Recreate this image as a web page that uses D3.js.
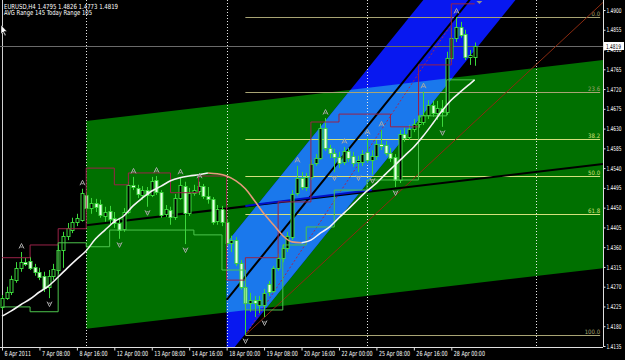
<!DOCTYPE html>
<html>
<head>
<meta charset="utf-8">
<script src="https://cdn.jsdelivr.net/npm/d3@7"></script>
<style>
  html, body { margin: 0; padding: 0; background: #000; }
  svg { display: block; }
  text { font-family: "DejaVu Sans Condensed", "DejaVu Sans", sans-serif; }
</style>
</head>
<body>
<svg id="chart"></svg>
<script>
// ---------- data (EURUSD H4, 6 Apr - 28 Apr 2011) ----------
const opens = [1.4224,1.4244,1.4258,1.4285,1.4313,1.4326,1.4329,1.4315,1.4304,1.4295,
  1.4270,1.4295,1.4308,1.4354,1.4386,1.4399,1.4418,1.4422,1.4479,1.4449,
  1.4461,1.4459,1.4431,1.4443,1.4427,1.4415,1.4402,1.4440,1.4502,1.4495,
  1.4479,1.4490,1.4479,1.4513,1.4486,1.4436,1.4445,1.4429,1.4472,1.4499,
  1.4438,1.4484,1.4488,1.4499,1.4477,1.4470,1.4420,1.4447,1.4418,1.4370,
  1.4376,1.4324,1.4270,1.4233,1.4240,1.4229,1.4229,1.4276,1.4260,1.4313,
  1.4336,1.4358,1.4383,1.4484,1.4518,1.4497,1.4520,1.4552,1.4563,1.4632,
  1.4586,1.4575,1.4566,1.4554,1.4579,1.4568,1.4554,1.4554,1.4577,1.4559,
  1.4568,1.4595,1.4593,1.4575,1.4566,1.4513,1.4618,1.4611,1.4629,1.4641,
  1.4645,1.4661,1.4684,1.4666,1.4677,1.4668,1.4791,1.4837,1.4862,1.4846,
  1.4793,1.4795];
const highs = [1.4251,1.4270,1.4295,1.4326,1.4349,1.4336,1.4338,1.4322,1.4313,1.4304,
  1.4308,1.4322,1.4365,1.4395,1.4415,1.4427,1.4436,1.4493,1.4486,1.4472,
  1.4470,1.4468,1.4452,1.4454,1.4440,1.4427,1.4449,1.4509,1.4520,1.4502,
  1.4499,1.4497,1.4520,1.4522,1.4490,1.4456,1.4452,1.4481,1.4518,1.4509,
  1.4495,1.4502,1.4509,1.4504,1.4497,1.4474,1.4456,1.4454,1.4424,1.4386,
  1.4383,1.4331,1.4276,1.4256,1.4249,1.4249,1.4265,1.4283,1.4317,1.4345,
  1.4367,1.4395,1.4490,1.4545,1.4531,1.4529,1.4559,1.4572,1.4641,1.4654,
  1.4593,1.4584,1.4577,1.4588,1.4586,1.4577,1.4568,1.4581,1.4609,1.4581,
  1.4604,1.4627,1.4602,1.4586,1.4572,1.4627,1.4632,1.4638,1.4652,1.4661,
  1.4714,1.4695,1.4693,1.4693,1.4695,1.4805,1.4859,1.4884,1.4873,1.4855,
  1.4809,1.4826];
const lows = [1.4217,1.4240,1.4251,1.4279,1.4304,1.4317,1.4308,1.4295,1.4285,1.4258,
  1.4244,1.4285,1.4299,1.4313,1.4376,1.4392,1.4408,1.4418,1.4440,1.4436,
  1.4440,1.4427,1.4418,1.4413,1.4404,1.4379,1.4395,1.4436,1.4490,1.4472,
  1.4468,1.4452,1.4474,1.4479,1.4427,1.4429,1.4411,1.4422,1.4468,1.4367,
  1.4431,1.4477,1.4479,1.4470,1.4459,1.4411,1.4411,1.4408,1.4363,1.4349,
  1.4317,1.4263,1.4160,1.4213,1.4201,1.4210,1.4201,1.4249,1.4256,1.4306,
  1.4326,1.4349,1.4376,1.4477,1.4490,1.4488,1.4513,1.4545,1.4559,1.4579,
  1.4563,1.4531,1.4540,1.4547,1.4554,1.4543,1.4531,1.4545,1.4552,1.4525,
  1.4559,1.4581,1.4568,1.4554,1.4497,1.4506,1.4600,1.4604,1.4622,1.4632,
  1.4638,1.4652,1.4657,1.4650,1.4634,1.4661,1.4782,1.4827,1.4837,1.4786,
  1.4775,1.4773];
const closes = [1.4244,1.4258,1.4288,1.4313,1.4326,1.4322,1.4313,1.4304,1.4292,1.4267,
  1.4295,1.4310,1.4354,1.4386,1.4404,1.4418,1.4427,1.4484,1.4449,1.4461,
  1.4452,1.4433,1.4440,1.4424,1.4415,1.4399,1.4440,1.4502,1.4497,1.4481,
  1.4490,1.4479,1.4511,1.4486,1.4433,1.4447,1.4429,1.4472,1.4502,1.4438,
  1.4484,1.4490,1.4499,1.4477,1.4470,1.4418,1.4447,1.4418,1.4370,1.4376,
  1.4324,1.4270,1.4233,1.4240,1.4233,1.4240,1.4256,1.4258,1.4313,1.4336,
  1.4358,1.4386,1.4481,1.4518,1.4497,1.4520,1.4550,1.4563,1.4632,1.4586,
  1.4575,1.4566,1.4552,1.4579,1.4563,1.4552,1.4559,1.4572,1.4559,1.4568,
  1.4595,1.4591,1.4575,1.4563,1.4513,1.4618,1.4609,1.4629,1.4641,1.4645,
  1.4661,1.4684,1.4666,1.4677,1.4668,1.4791,1.4837,1.4862,1.4843,1.4793,
  1.4798,1.4819];

// moving average, read every second bar
const maBars = [0,2,4,6,8,10,12,14,16,18,20,22,24,26,28,30,32,34,36,38,40,42,44,46,48,50,
  52,54,56,58,60,62,64,66,68,70,72,74,76,78,80,82,84,86,88,90,92,94,96,98,100,101];
const maValues = [1.4203,1.4215,1.4229,1.4242,1.4258,1.4272,1.4292,1.4313,1.4333,1.4352,
  1.4379,1.4399,1.4418,1.4431,1.4454,1.4472,1.4488,1.4499,1.4511,1.4518,
  1.4522,1.4525,1.4529,1.4527,1.4522,1.4511,1.4493,1.4465,1.4436,1.4411,
  1.4386,1.4372,1.4370,1.4376,1.4392,1.4406,1.4427,1.4447,1.4468,1.4488,
  1.4506,1.4527,1.4547,1.4568,1.4588,1.4613,1.4641,1.4670,1.4695,1.4714,
  1.4732,1.4741];

// step lines: bar where each level starts
const resStart = [0,6,12,18,24,27,36,42,48,52,59,66,72,83,89,96];
const resLevel = [1.4336,1.4365,1.4402,1.4540,1.4502,1.4529,1.4484,1.4522,1.4285,1.4336,1.4463,1.4645,1.4663,1.4634,1.4775,1.4914];
const supStart = [0,6,12,18,23,41,47,52,60,65,71,78,89,95];
const supLevel = [1.4224,1.4213,1.4370,1.4361,1.4399,1.4388,1.4308,1.4217,1.4365,1.4406,1.4490,1.4513,1.4659,1.4741];

// fractals
const upFractals = [4,17,28,33,38,42,63,69,73,78,81,90,97];
const downFractals = [10,25,31,39,52,56,71,76,79,84,94];

// regression channels (bar, upper, middle, lower)
const greenBars = [18, 129];
const greenUpper = [1.4647, 1.4787];
const greenMid = [1.4410, 1.4550];
const greenLower = [1.4174, 1.4313];
const blueBars = [48, 112];
const blueUpper = [1.4370, 1.5212];
const blueMid = [1.4240, 1.5082];
const blueLower = [1.4110, 1.4953];

// blue trend segment and brown ray
const blueSegBars = [52, 79];
const blueSegValues = [1.4454, 1.4490];
const rayBars = [52, 130];
const rayValues = [1.4160, 1.4933];

// fibonacci retracement
const fibBars = [52, 97];
const fibLow = 1.4160, fibHigh = 1.4884;
const fibLevels = [0, 23.6, 38.2, 50.0, 61.8, 100.0];
const fibEndBar = 127.8;

const separators = [18, 48, 78, 114];
const bidPrice = 1.4819;

const timeTickBars = [0,8,16,24,32,40,48,56,64,72,80,88,96];
const timeTickLabels = ["6 Apr 2011","7 Apr 08:00","8 Apr 16:00","12 Apr 00:00","13 Apr 08:00",
  "14 Apr 16:00","18 Apr 00:00","19 Apr 08:00","20 Apr 16:00","22 Apr 00:00","25 Apr 08:00",
  "26 Apr 16:00","28 Apr 00:00"];
const priceTicks = [1.4900,1.4855,1.4810,1.4765,1.4720,1.4675,1.4630,1.4585,1.4540,
  1.4495,1.4450,1.4405,1.4360,1.4315,1.4270,1.4225,1.4180,1.4135];

// ---------- layout ----------
const W = 625, H = 360, plotR = 603, plotB = 347;
const x = d3.scaleLinear().domain([0, 101]).range([2, 474.7]);
const y = d3.scaleLinear().domain([1.4135, 1.4900]).range([346, 10]);
const line = d3.line();

const svg = d3.select("#chart").attr("width", W).attr("height", H);
svg.append("rect").attr("width", W).attr("height", H).attr("fill", "#000");

const defs = svg.append("defs");
defs.append("clipPath").attr("id", "plotClip")
  .append("rect").attr("width", plotR).attr("height", plotB);

const band = (bars, up, lo) => line([[x(bars[0]), y(up[0])], [x(bars[1]), y(up[1])],
  [x(bars[1]), y(lo[1])], [x(bars[0]), y(lo[0])]]) + "Z";

defs.append("clipPath").attr("id", "greenClip")
  .append("path").attr("d", band(greenBars, greenUpper, greenLower));

const plot = svg.append("g").attr("clip-path", "url(#plotClip)");

// channel fills
plot.append("path").attr("d", band(greenBars, greenUpper, greenLower)).attr("fill", "#007000");
plot.append("path").attr("d", band(blueBars, blueUpper, blueLower)).attr("fill", "#0818f0");
plot.append("g").attr("clip-path", "url(#greenClip)")
  .append("path").attr("d", band(blueBars, blueUpper, blueLower)).attr("fill", "#1a78ec");

// period separators
plot.selectAll("line.sep").data(separators).join("line")
  .attr("class", "sep")
  .attr("x1", d => Math.round(x(d)) + 0.5).attr("x2", d => Math.round(x(d)) + 0.5)
  .attr("y1", 0).attr("y2", plotB)
  .attr("stroke", "#e8e8e8").attr("stroke-dasharray", "1,2");
plot.append("line")
  .attr("x1", Math.round(x(0)) + 0.5).attr("x2", Math.round(x(0)) + 0.5)
  .attr("y1", 0).attr("y2", plotB).attr("stroke", "#d0d0d0");

// bid line
plot.append("line").attr("x1", 0).attr("x2", plotR)
  .attr("y1", Math.round(y(bidPrice)) + 0.5).attr("y2", Math.round(y(bidPrice)) + 0.5)
  .attr("stroke", "#6a6a6a");

// fibonacci levels
const fibPrice = lv => fibHigh - (fibHigh - fibLow) * lv / 100;
const fibColor = lv => (lv === 0 || lv === 23.6 || lv === 100) ? "#a8a474" : "#d4e07c";
const fib = plot.append("g");
fib.selectAll("line").data(fibLevels).join("line")
  .attr("x1", x(fibBars[0])).attr("x2", x(fibEndBar))
  .attr("y1", d => Math.round(y(fibPrice(d))) + 0.5).attr("y2", d => Math.round(y(fibPrice(d))) + 0.5)
  .attr("stroke", fibColor);
fib.selectAll("text").data(fibLevels).join("text")
  .attr("x", x(fibEndBar)).attr("y", d => Math.round(y(fibPrice(d))) - 1)
  .attr("text-anchor", "end").attr("font-size", 6).attr("fill", fibColor)
  .text(d => d.toFixed(1));
fib.append("path")
  .attr("d", line([[x(fibBars[0]), y(fibLow)], [x(fibBars[1]), y(fibHigh)]]))
  .attr("stroke", "#a02858").attr("stroke-dasharray", "2,2").attr("fill", "none");

// trend lines
plot.append("path").attr("d", line([[x(rayBars[0]), y(rayValues[0])], [x(rayBars[1]), y(rayValues[1])]]))
  .attr("stroke", "#8a2a10").attr("fill", "none");
plot.append("path").attr("d", line([[x(greenBars[0]), y(greenMid[0])], [x(greenBars[1]), y(greenMid[1])]]))
  .attr("stroke", "#000").attr("stroke-width", 2).attr("fill", "none");
plot.append("path").attr("d", line([[x(blueBars[0]), y(blueMid[0])], [x(blueBars[1]), y(blueMid[1])]]))
  .attr("stroke", "#000").attr("stroke-width", 2).attr("fill", "none");
plot.append("path").attr("d", line([[x(blueSegBars[0]), y(blueSegValues[0])], [x(blueSegBars[1]), y(blueSegValues[1])]]))
  .attr("stroke", "#0010c8").attr("stroke-width", 2).attr("fill", "none");

// candles
const bars = d3.range(opens.length).map(i => ({i, o: opens[i], h: highs[i], l: lows[i], c: closes[i]}));
const cx = d => Math.round(x(d.i)) + 0.5;
const candles = plot.append("g");
candles.selectAll("line").data(bars).join("line")
  .attr("x1", cx).attr("x2", cx)
  .attr("y1", d => y(d.h)).attr("y2", d => y(d.l))
  .attr("stroke", "#3cd83c");
candles.selectAll("rect").data(bars).join("rect")
  .attr("x", d => cx(d) - 1.5).attr("width", 3)
  .attr("y", d => Math.round(y(Math.max(d.o, d.c))) + 0.5)
  .attr("height", d => Math.max(1, Math.round(Math.abs(y(d.o) - y(d.c)))))
  .attr("fill", d => d.c < d.o ? "#eaffea" : "#000")
  .attr("stroke", "#3cd83c");

// step lines
const stepPts = (starts, levels) => starts.map((b, k) => [x(b), y(levels[k])]).concat([[x(101), y(levels[levels.length - 1])]]);
const stepLine = d3.line().curve(d3.curveStepAfter);
plot.append("path").attr("d", stepLine(stepPts(resStart, resLevel)))
  .attr("stroke", "#9a2248").attr("fill", "none");
plot.append("path").attr("d", stepLine(stepPts(supStart, supLevel)))
  .attr("stroke", "#4cc44c").attr("fill", "none");

// moving average, white when rising, salmon when falling
const maPts = maBars.map((b, k) => ({b, v: maValues[k]}));
const runs = [];
for (let k = 1; k < maPts.length; k++) {
  const up = maPts[k].v >= maPts[k - 1].v;
  if (!runs.length || runs[runs.length - 1].up !== up) runs.push({up, pts: [maPts[k - 1]]});
  runs[runs.length - 1].pts.push(maPts[k]);
}
const maLine = d3.line().x(d => x(d.b)).y(d => y(d.v)).curve(d3.curveMonotoneX);
plot.selectAll("path.ma").data(runs).join("path")
  .attr("class", "ma")
  .attr("d", d => maLine(d.pts))
  .attr("stroke", d => d.up ? "#f4f4f4" : "#e49a7c")
  .attr("stroke-width", 1.6).attr("fill", "none");

// fractals
plot.selectAll("path.fup").data(upFractals).join("path")
  .attr("class", "fup")
  .attr("transform", i => `translate(${cx({i})},${y(highs[i]) - 6})`)
  .attr("d", "M-2.5,2.5L0,-2.5L2.5,2.5M-1.2,1H1.2")
  .attr("stroke", "#a8a8a8").attr("fill", "none");
plot.selectAll("path.fdn").data(downFractals).join("path")
  .attr("class", "fdn")
  .attr("transform", i => `translate(${cx({i})},${y(lows[i]) + 6})`)
  .attr("d", "M-2.5,-2.5L0,2.5L2.5,-2.5M-1.2,-1H1.2")
  .attr("stroke", "#a8a8a8").attr("fill", "none");

// chart shift marker
svg.append("path").attr("transform", `translate(${x(102)},1)`)
  .attr("d", "M-3,0H3L0,3Z").attr("fill", "#909090");

// ---------- axes ----------
const yAxis = svg.append("g").attr("transform", `translate(${plotR + 0.5},0)`)
  .call(d3.axisRight(y).tickValues(priceTicks).tickSize(2).tickPadding(1).tickFormat(d3.format(".4f")));
yAxis.select(".domain").attr("stroke", "#e0e0e0").attr("d", `M0,0V${plotB}`);
yAxis.selectAll(".tick line").attr("stroke", "#e0e0e0");
yAxis.selectAll(".tick text").attr("fill", "#fff").attr("font-size", 6.5)
  .attr("x", 0).attr("transform", "translate(3,0) scale(0.74,1)");

const xAxis = svg.append("g").attr("transform", `translate(0,${plotB + 0.5})`)
  .call(d3.axisBottom(x).tickValues(timeTickBars).tickSize(3).tickFormat((d, k) => timeTickLabels[k]));
xAxis.select(".domain").attr("stroke", "#e0e0e0").attr("d", `M0,0H${plotR}`);
xAxis.selectAll(".tick line").attr("stroke", "#e0e0e0");
xAxis.selectAll(".tick text").attr("fill", "#fff").attr("font-size", 7)
  .attr("text-anchor", "start").attr("x", 0).attr("y", 4)
  .attr("transform", "translate(2,0) scale(0.76,1)");

// bid price box
const by = Math.round(y(bidPrice));
svg.append("rect").attr("x", plotR + 1).attr("y", by - 4).attr("width", 20).attr("height", 8).attr("fill", "#fff");
svg.append("text").attr("transform", `translate(${plotR + 3},${by + 2.5}) scale(0.74,1)`)
  .attr("font-size", 6.5).attr("fill", "#000").text(bidPrice.toFixed(4));

// header text
const last = opens.length - 1;
svg.append("text").attr("x", 4).attr("y", 8.5).attr("font-size", 7).attr("fill", "#fff")
  .attr("textLength", 114).attr("lengthAdjust", "spacingAndGlyphs")
  .text(`EURUSD,H4  ${opens[last].toFixed(4)} ${highs[last].toFixed(4)} ${lows[last].toFixed(4)} ${closes[last].toFixed(4)}`);
svg.append("text").attr("x", 4).attr("y", 15).attr("font-size", 7).attr("fill", "#fff")
  .attr("textLength", 88).attr("lengthAdjust", "spacingAndGlyphs")
  .text("AVG Range 145   Today Range 105");

// mouse pointer
svg.append("path").attr("transform", "translate(1,25)")
  .attr("d", "M0,0V9L2,7L4,11L5,10L3,6.5H6Z").attr("fill", "#fff").attr("stroke", "#000").attr("stroke-width", 0.5);
</script>
</body>
</html>
